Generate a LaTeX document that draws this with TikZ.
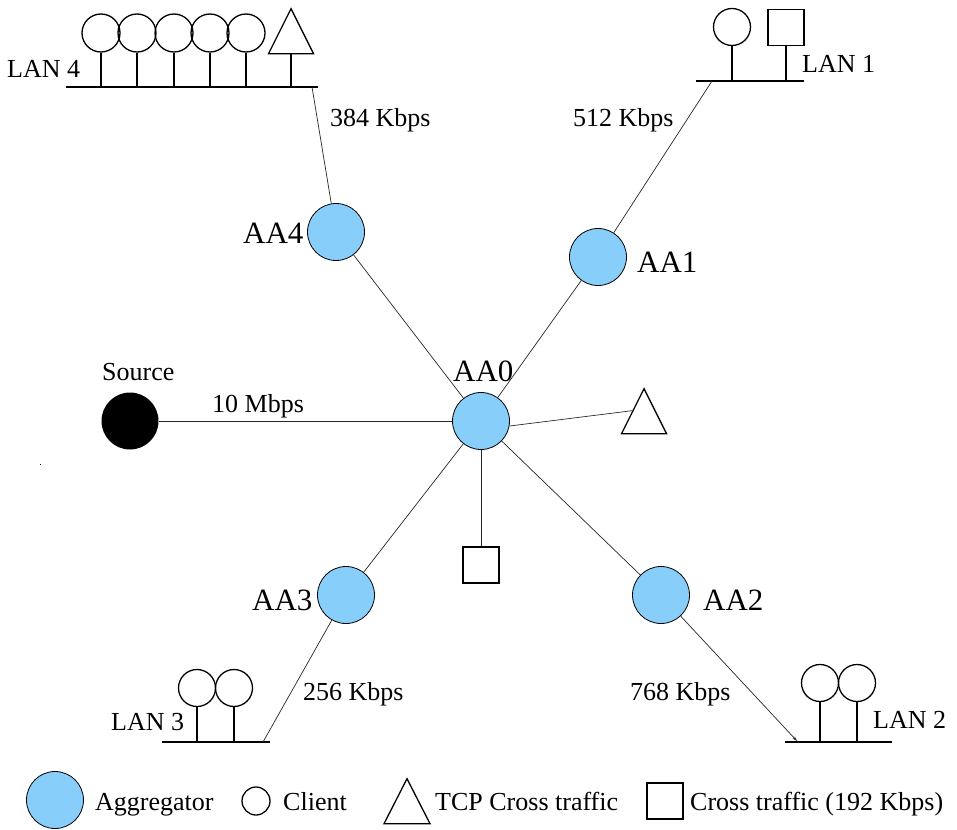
\documentclass[tikz,border=0pt]{standalone}
\usepackage{fontspec}
\setmainfont{Liberation Serif}
\usetikzlibrary{shapes.geometric,arrows.meta}
\definecolor{aggblue}{RGB}{135,206,250}
\begin{document}
\begin{tikzpicture}[x=1pt,y=-1pt,
  agg/.style={circle,draw=black,fill=aggblue,line width=0.8pt,minimum size=57pt,inner sep=0pt},
  srcnode/.style={circle,fill=black,minimum size=57pt,inner sep=0pt},
  client/.style={circle,draw,line width=1.3pt,minimum size=37pt,inner sep=0pt},
  tcp/.style={isosceles triangle,isosceles triangle stretches,shape border rotate=90,draw,line width=1.3pt,minimum width=45pt,minimum height=45pt,inner sep=0pt,anchor=apex},
  xtraffic/.style={rectangle,draw,line width=1.3pt,minimum size=36pt,inner sep=0pt},
  bus/.style={line width=1.3pt},
  link/.style={line width=0.7pt,black!85},
  lbl/.style={font=\fontsize{26}{30}\selectfont,inner sep=0pt,anchor=base west},
  aalbl/.style={font=\fontsize{31}{36}\selectfont,inner sep=0pt,anchor=base west},
]
\useasboundingbox (0,0) rectangle (957,829);

% aggregators and source
\node[agg] (aa0) at (481,421) {};
\node[agg] (aa4) at (336,232) {};
\node[agg] (aa1) at (598,257) {};
\node[agg] (aa3) at (346,595) {};
\node[agg] (aa2) at (661,595) {};
\node[srcnode] (src) at (130,421) {};

\node[aalbl] (laa0) at (453,381) {AA0};
\node[aalbl] (laa4) at (243,243) {AA4};
\node[aalbl] (laa1) at (637,272) {AA1};
\node[aalbl] (laa3) at (252,610) {AA3};
\node[aalbl] (laa2) at (703,610) {AA2};
\node[lbl] (lsrc) at (102,380) {Source};

% cross traffic attached to AA0
\node[tcp] (t0) at (644,387) {};
\node[xtraffic] (s0) at (481,565) {};

% LAN 4
\coordinate (l4a) at (66,87);
\coordinate (l4b) at (318,87);
\coordinate (l4p) at (312,87);
\draw[bus] (l4a) -- (l4b);
\foreach \i/\x in {1/101,2/137,3/174,4/210,5/246}{
  \node[client,minimum size=38pt] (c4\i) at (\x,33) {};
  \draw[bus] (c4\i.south) -- (c4\i.south |- l4a);
}
\node[tcp] (t4) at (291,7) {};
\draw[bus] (t4.south) -- (t4.south |- l4a);
\node[lbl] (lan4) at (7,78) {LAN 4};

% LAN 1
\coordinate (l1a) at (696,81);
\coordinate (l1b) at (804,81);
\coordinate (l1p) at (712,81);
\draw[bus] (l1a) -- (l1b);
\node[client] (c11) at (732,27) {};
\node[xtraffic] (s1) at (786,27.5) {};
\draw[bus] (c11.south) -- (c11.south |- l1a);
\draw[bus] (s1.south) -- (s1.south |- l1a);
\node[lbl] (lan1) at (802,73) {LAN 1};

% LAN 3
\coordinate (l3a) at (162,742);
\coordinate (l3b) at (270,742);
\coordinate (l3p) at (263,742);
\draw[bus] (l3a) -- (l3b);
\node[client] (c31) at (197,688) {};
\node[client] (c32) at (234,688) {};
\draw[bus] (c31.south) -- (c31.south |- l3a);
\draw[bus] (c32.south) -- (c32.south |- l3a);
\node[lbl] (lan3) at (111,730) {LAN 3};

% LAN 2
\coordinate (l2a) at (785,742);
\coordinate (l2b) at (892,742);
\coordinate (l2p) at (797,741);
\draw[bus] (l2a) -- (l2b);
\node[client] (c21) at (820,683) {};
\node[client] (c22) at (857,683) {};
\draw[bus] (c21.south) -- (c21.south |- l2a);
\draw[bus] (c22.south) -- (c22.south |- l2a);
\node[lbl] (lan2) at (873,728) {LAN 2};

% links
\draw[link] (src) -- (aa0);
\draw[link] (aa0) -- (aa4);
\draw[link] (aa0) -- (aa1);
\draw[link] (aa0) -- (aa3);
\draw[link] (aa0) -- (aa2);
\draw[link] (aa0.-10) -- (t0.left side);
\draw[link] (aa0) -- (s0);
\draw[link] (aa4) -- (l4p);
\draw[link] (aa1) -- (l1p);
\draw[link] (aa3) -- (l3p);
\draw[link,-{Stealth[length=5pt,width=3pt]}] (aa2) -- (l2p);

% link rates
\node[lbl] (r0) at (212,412) {10 Mbps};
\node[lbl] (r4) at (330,127) {384 Kbps};
\node[lbl] (r1) at (573,127) {512 Kbps};
\node[lbl] (r3) at (303,700) {256 Kbps};
\node[lbl] (r2) at (630,700) {768 Kbps};

% stray mark
\fill (39.5,463.5) rectangle (40.8,464.8);

% legend
\node[agg] (kagg) at (55,800) {};
\node[lbl] (kagglbl) at (95,810) {Aggregator};
\node[client,minimum size=28pt] (kcli) at (256,801) {};
\node[lbl] (kclilbl) at (283,810) {Client};
\node[tcp,minimum width=46pt] (ktcp) at (407,777) {};
\node[lbl] (ktcplbl) at (435,810) {TCP Cross traffic};
\node[xtraffic] (kx) at (665,801) {};
\node[lbl] (kxlbl) at (690,810) {Cross traffic (192 Kbps)};
\end{tikzpicture}
\end{document}
